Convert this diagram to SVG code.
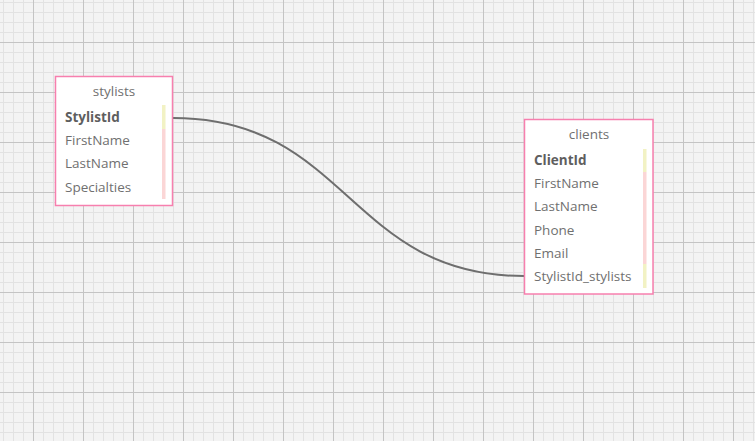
<svg xmlns="http://www.w3.org/2000/svg" width="755" height="441" viewBox="0 0 755 441">
<defs>
<pattern id="minor" width="10" height="10" x="3" y="2" patternUnits="userSpaceOnUse">
<path d="M0 0.5H10M0.5 0V10" fill="none" stroke="#e2e2e2" stroke-width="1"/>
</pattern>
<pattern id="major" width="50" height="50" x="33" y="42" patternUnits="userSpaceOnUse">
<path d="M0 0.5H50M0.5 0V50" fill="none" stroke="#c4c4c4" stroke-width="1"/>
</pattern>
</defs>
<style>
.box{fill:#ffffff;stroke:#f77fae;stroke-width:1.5}
.title{font-family:"Open Sans","Noto Sans",sans-serif;font-size:13.5px;fill:#707070;text-anchor:middle}
.f{font-family:"Open Sans","Noto Sans",sans-serif;font-size:13.5px;fill:#707070}
.pk{font-weight:bold;fill:#5e5e5e}
.y{fill:#f2f2c4}
.p{fill:#fbd6d6}
.conn{fill:none;stroke:#6e6e6e;stroke-width:2}
</style>
<rect width="755" height="441" fill="#f3f3f3"/>
<rect width="755" height="441" fill="url(#minor)"/>
<rect width="755" height="441" fill="url(#major)"/>
<g id="connectors">
<path class="conn" d="M173 118C348.5 118 348.5 276 524 276"/>
</g>
<g id="stylists">
<rect class="box" x="55.5" y="76.5" width="117" height="129"/>
<text class="title" x="114" y="96">stylists</text>
<rect class="y" x="162" y="105" width="3.5" height="24"/>
<rect class="p" x="162" y="129" width="3.5" height="70"/>
<text class="f pk" x="65" y="122">StylistId</text>
<text class="f" x="65" y="145">FirstName</text>
<text class="f" x="65" y="168">LastName</text>
<text class="f" x="65" y="192">Specialties</text>
</g>
<g id="clients">
<rect class="box" x="524.5" y="119.5" width="128.5" height="174.5"/>
<text class="title" x="589" y="139">clients</text>
<rect class="y" x="643" y="149" width="3.5" height="23"/>
<rect class="p" x="643" y="172" width="3.5" height="92"/>
<rect class="y" x="643" y="264" width="3.5" height="24"/>
<text class="f pk" x="534" y="165">ClientId</text>
<text class="f" x="534" y="188">FirstName</text>
<text class="f" x="534" y="211">LastName</text>
<text class="f" x="534" y="235">Phone</text>
<text class="f" x="534" y="258">Email</text>
<text class="f" x="534" y="281">StylistId_stylists</text>
</g>
</svg>
